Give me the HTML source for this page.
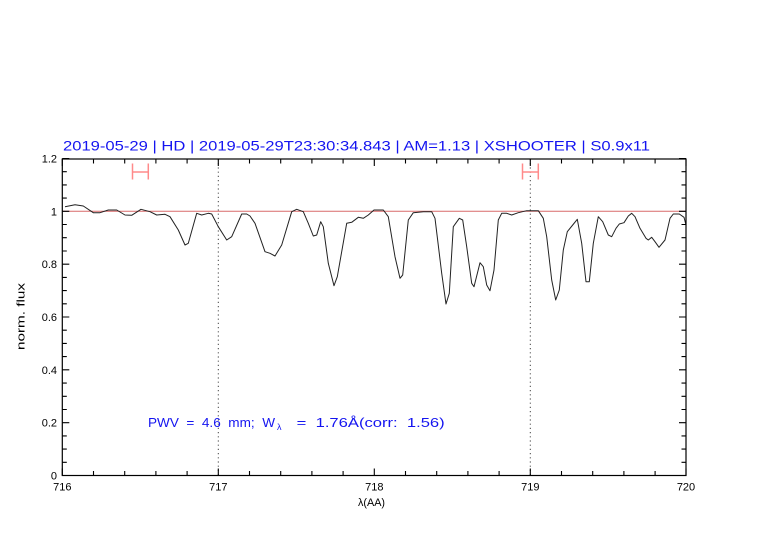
<!DOCTYPE html>
<html><head><meta charset="utf-8"><style>
html,body{margin:0;padding:0;background:#fff;}
svg{display:block;}
text{font-family:"Liberation Sans","DejaVu Sans",sans-serif;}
</style></head><body>
<svg width="782" height="542" viewBox="0 0 782 542" xmlns="http://www.w3.org/2000/svg">
<rect x="0" y="0" width="782" height="542" fill="#fff"/>
<!-- title -->
<text x="63" y="150.5" font-size="14" fill="#1414f0" textLength="587" lengthAdjust="spacingAndGlyphs">2019-05-29 | HD | 2019-05-29T23:30:34.843 | AM=1.13 | XSHOOTER | S0.9x11</text>
<!-- dotted verticals -->
<line x1="218.3" y1="159" x2="218.3" y2="475.5" stroke="#444" stroke-width="1" stroke-dasharray="1.2,3"/>
<line x1="530.3" y1="159" x2="530.3" y2="475.5" stroke="#444" stroke-width="1" stroke-dasharray="1.2,3"/>
<!-- unity line -->
<line x1="62.3" y1="211.3" x2="686" y2="211.3" stroke="#d86a6a" stroke-width="1"/>
<!-- error bar markers -->
<g stroke="#ff8a8a" stroke-width="1.5" fill="none">
<line x1="132.5" y1="172" x2="148.3" y2="172"/>
<line x1="132.5" y1="163.5" x2="132.5" y2="179.5"/>
<line x1="148.3" y1="163.5" x2="148.3" y2="179.5"/>
<line x1="522.5" y1="172" x2="538.3" y2="172"/>
<line x1="522.5" y1="163.5" x2="522.5" y2="179.5"/>
<line x1="538.3" y1="163.5" x2="538.3" y2="179.5"/>
</g>
<!-- spectrum -->
<polyline fill="none" stroke="#222" stroke-width="1" stroke-linejoin="round" points="
65,206.7 75,204.7 83.3,206 93.3,212.7 100,212.7 108.3,210 116.7,210 125,215 131.7,215.3 141,209.3 150,211.7 156.7,215 165,214.3 170,216.7 178.3,230 185,245 188.3,243.3 196.7,213.3 201.7,215 208.3,213.3 211.7,214 218.3,226.7 226.7,240 231.7,236.7 241.7,214 246.7,214 250,216 255,223.3 265,251.7 270,253.3 275,256 281.7,245 291.7,211.7 296.7,209.3 303.3,211.7 308.3,223.3 313.3,236 316.7,235 320.7,221.7 323.3,226.7 328.3,263.3 334,285.7 337.3,276.7 346.7,223.3 351.7,222.3 358.3,217.3 363.3,218.3 368.3,215 374,210 383.3,210 388.3,216.7 395,256.7 400,278.3 402.7,275 408.3,220 413.3,212.7 423.3,211.7 431.7,211.7 435,218.3 441.7,273.3 446,304 449.3,293.3 453.3,226.7 459.3,218.3 462.7,220 466.7,246.7 471.7,283.3 474,286.7 480,262.7 483.3,266.7 486.7,285 490,290.7 494,270 498.3,220 501.7,213.3 506.7,213.3 511.7,215 518.3,212.7 526.7,210.7 538.3,210.7 543.3,218.3 546.7,236.7 551.7,280 555.7,300 559.3,290 563.3,250 567.3,231.7 572.7,225 577.3,219.3 581.7,243.3 586,281.7 589.3,281.7 593.3,243.3 598.3,216.7 602.7,221.7 608.3,235 611.7,236.7 616,228.3 619.3,224 624,222.7 628.3,216 631.7,213.3 635,216.7 640,228.3 646,238.3 648.3,240 651.7,237.3 655,241.7 659,247.3 665,240 670,218.3 673.3,214 679.3,214 684,217.3 686,225"/>
<!-- frame -->
<rect x="62.3" y="159" width="623.7" height="316.5" fill="none" stroke="#000" stroke-width="1.2"/>
<!-- ticks -->
<g stroke="#000" stroke-width="1.1">
<path d="M62.3,475.5v-7 M93.5,475.5v-4.5 M124.7,475.5v-4.5 M155.9,475.5v-4.5 M187.1,475.5v-4.5 M218.3,475.5v-7 M249.5,475.5v-4.5 M280.7,475.5v-4.5 M311.9,475.5v-4.5 M343.1,475.5v-4.5 M374.3,475.5v-7 M405.5,475.5v-4.5 M436.7,475.5v-4.5 M467.9,475.5v-4.5 M499.1,475.5v-4.5 M530.3,475.5v-7 M561.5,475.5v-4.5 M592.7,475.5v-4.5 M623.9,475.5v-4.5 M655.1,475.5v-4.5 M686,475.5v-7"/>
<path d="M62.3,159v7 M93.5,159v4.5 M124.7,159v4.5 M155.9,159v4.5 M187.1,159v4.5 M218.3,159v7 M249.5,159v4.5 M280.7,159v4.5 M311.9,159v4.5 M343.1,159v4.5 M374.3,159v7 M405.5,159v4.5 M436.7,159v4.5 M467.9,159v4.5 M499.1,159v4.5 M530.3,159v7 M561.5,159v4.5 M592.7,159v4.5 M623.9,159v4.5 M655.1,159v4.5 M686,159v7"/>
<path d="M62.3,475.5h7 M62.3,462.3h4.5 M62.3,449.1h4.5 M62.3,435.9h4.5 M62.3,422.7h7 M62.3,409.5h4.5 M62.3,396.3h4.5 M62.3,383.1h4.5 M62.3,369.8h7 M62.3,356.6h4.5 M62.3,343.4h4.5 M62.3,330.2h4.5 M62.3,317h7 M62.3,303.8h4.5 M62.3,290.6h4.5 M62.3,277.4h4.5 M62.3,264.2h7 M62.3,251h4.5 M62.3,237.7h4.5 M62.3,224.5h4.5 M62.3,211.3h7 M62.3,198.1h4.5 M62.3,184.9h4.5 M62.3,171.7h4.5 M62.3,158.5h7"/>
<path d="M686,475.5h-7 M686,462.3h-4.5 M686,449.1h-4.5 M686,435.9h-4.5 M686,422.7h-7 M686,409.5h-4.5 M686,396.3h-4.5 M686,383.1h-4.5 M686,369.8h-7 M686,356.6h-4.5 M686,343.4h-4.5 M686,330.2h-4.5 M686,317h-7 M686,303.8h-4.5 M686,290.6h-4.5 M686,277.4h-4.5 M686,264.2h-7 M686,251h-4.5 M686,237.7h-4.5 M686,224.5h-4.5 M686,211.3h-7 M686,198.1h-4.5 M686,184.9h-4.5 M686,171.7h-4.5 M686,158.5h-7"/>
</g>
<!-- y tick labels -->
<g font-size="11" fill="#000" text-anchor="end">
<text x="57" y="479.5">0</text>
<text x="57" y="426.7">0.2</text>
<text x="57" y="373.8">0.4</text>
<text x="57" y="321">0.6</text>
<text x="57" y="268.2">0.8</text>
<text x="57" y="215.3">1</text>
<text x="57" y="162.5">1.2</text>
</g>
<!-- x tick labels -->
<g font-size="11" fill="#000" text-anchor="middle">
<text x="62.3" y="490.5">716</text>
<text x="218.3" y="490.5">717</text>
<text x="374.3" y="490.5">718</text>
<text x="530.3" y="490.5">719</text>
<text x="686" y="490.5">720</text>
</g>
<!-- axis labels -->
<text x="358" y="506" font-size="11" fill="#000" textLength="27" lengthAdjust="spacingAndGlyphs">λ(AA)</text>
<text transform="translate(24.5,350) rotate(-90)" font-size="11" fill="#000" textLength="67" lengthAdjust="spacingAndGlyphs">norm.  flux</text>
<!-- PWV annotation -->
<text x="148" y="427" font-size="13" fill="#1414f0" textLength="127" lengthAdjust="spacingAndGlyphs" xml:space="preserve">PWV  =  4.6  mm;  W</text>
<text x="277" y="430" font-size="9" fill="#1414f0">λ</text>
<text x="296.7" y="427" font-size="13" fill="#1414f0" textLength="148" lengthAdjust="spacingAndGlyphs" xml:space="preserve">=  1.76Å(corr:  1.56)</text>
</svg>
</body></html>
